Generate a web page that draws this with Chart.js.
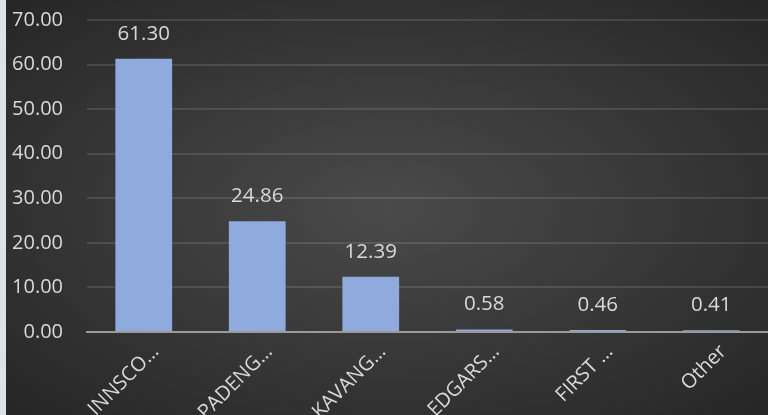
<!DOCTYPE html>
<html>
<head>
<meta charset="utf-8">
<script src="https://cdn.jsdelivr.net/npm/chart.js@4/dist/chart.umd.min.js"></script>
<style>
    html, body { margin: 0; padding: 0; background: #dbe2ea; overflow: hidden; }
    #wrap {
        position: absolute; left: 6px; top: 0; width: 762px; height: 415px;
        background: radial-gradient(ellipse farthest-corner at 50% 50%, #4a4a4a 0%, #3a3a3a 45%, #262626 100%);
    }
</style>
</head>
<body>
<div id="wrap"><canvas id="chart" width="762" height="415"></canvas></div>
<script>
    // Datos del gráfico
    let categories = ['INNSCO…', 'PADENG…', 'KAVANG…', 'EDGARS…', 'FIRST …', 'Other'];
    let values = [61.30, 24.86, 12.39, 0.58, 0.46, 0.41];
    let yTicks = [0, 10, 20, 30, 40, 50, 60, 70];

    let textColor = '#d9d9d9';
    let fontFamily = "'Open Sans', 'Noto Sans', sans-serif";

    // Etiquetas de valor encima de cada barra
    let valueLabels = {
        id: 'valueLabels',
        afterDatasetsDraw(chart) {
            let ctx = chart.ctx;
            let meta = chart.getDatasetMeta(0);
            ctx.save();
            ctx.fillStyle = textColor;
            ctx.font = '20.5px ' + fontFamily;
            ctx.textAlign = 'center';
            ctx.textBaseline = 'middle';
            meta.data.forEach((bar, i) => {
                ctx.fillText(values[i].toFixed(2), bar.x, bar.y - 25);
            });
            ctx.restore();
        }
    };

    let ctx = document.getElementById('chart').getContext('2d');
    new Chart(ctx, {
        type: 'bar',
        data: {
            labels: categories,
            datasets: [{
                data: values,
                backgroundColor: '#8faadc',
                borderWidth: 0,
                categoryPercentage: 1,
                barPercentage: 0.5
            }]
        },
        options: {
            responsive: false,
            animation: false,
            layout: { padding: { top: 20, right: 0, left: 0, bottom: 0 } },
            plugins: { legend: { display: false }, tooltip: { enabled: false } },
            scales: {
                x: {
                    grid: { display: false, drawTicks: false },
                    border: { color: '#9a9a9a', width: 2 },
                    afterFit: (scale) => {
                        scale.height = 83;
                        scale.paddingTop = 0;
                        scale.paddingLeft = 0;
                        scale.paddingRight = 0;
                    },
                    ticks: {
                        color: textColor,
                        font: { size: 20, family: fontFamily },
                        minRotation: 45,
                        maxRotation: 45,
                        autoSkip: false,
                        padding: 8,
                        labelOffset: 12
                    }
                },
                y: {
                    min: 0,
                    max: 70,
                    afterFit: (scale) => {
                        scale.width = 81;
                        scale.paddingTop = 0;
                        scale.paddingBottom = 0;
                    },
                    afterBuildTicks: (scale) => { scale.ticks = yTicks.map(v => ({ value: v })); },
                    grid: { color: 'rgba(217,217,217,0.14)', lineWidth: 2, drawTicks: false },
                    border: { display: false },
                    ticks: {
                        color: textColor,
                        font: { size: 20, family: fontFamily },
                        padding: 24,
                        callback: (v) => Number(v).toFixed(2)
                    }
                }
            }
        },
        plugins: [valueLabels]
    });
</script>
</body>
</html>
